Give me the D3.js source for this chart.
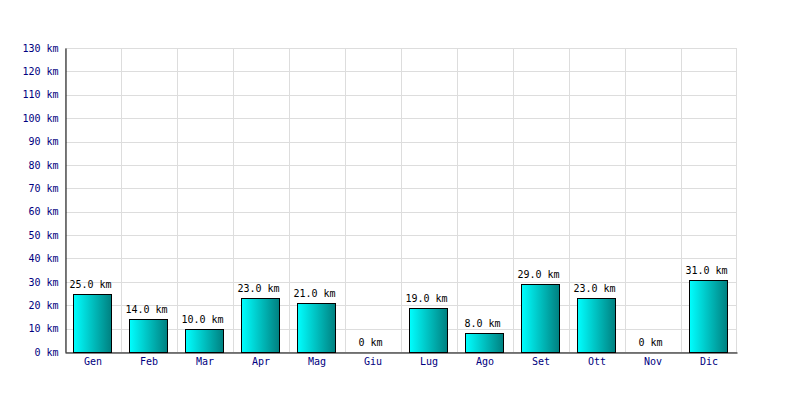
<!DOCTYPE html>
<html><head><meta charset="utf-8">
<script src="https://cdn.jsdelivr.net/npm/d3@7"></script>
<style>body{margin:0;background:#fff}svg{display:block}text{font-family:"DejaVu Sans Mono",monospace;font-size:10px}</style>
</head><body><svg id="c" width="800" height="400"></svg>
<script>
const months = ["Gen","Feb","Mar","Apr","Mag","Giu","Lug","Ago","Set","Ott","Nov","Dic"];
const km = [25,14,10,23,21,0,19,8,29,23,0,31];
const yTicks = [0,10,20,30,40,50,60,70,80,90,100,110,120,130];

const svg = d3.select("#c");
const L=65,R=737,T=48,B=352;
const xg = d3.scaleBand().domain(months).range([L,R]);
const BW = 38, OFF = 8;
const y = d3.scaleLinear().domain([0,130]).range([B,T]);

const defs = svg.append("defs");
const g = defs.append("linearGradient").attr("id","gr").attr("x1","0").attr("x2","1").attr("y1","0").attr("y2","0");
g.append("stop").attr("offset","0").attr("stop-color","#00ffff");
g.append("stop").attr("offset","1").attr("stop-color","#008080");

// grid
svg.append("g").selectAll("line").data(yTicks).join("line")
  .attr("x1",L).attr("x2",R).attr("y1",d=>Math.round(y(d))+0.5).attr("y2",d=>Math.round(y(d))+0.5)
  .attr("stroke","#dddddd");
svg.append("g").selectAll("line").data(months.concat(["__end"])).join("line")
  .attr("x1",d=>d==="__end"?R-0.5:Math.round(xg(d))+0.5).attr("x2",d=>d==="__end"?R-0.5:Math.round(xg(d))+0.5)
  .attr("y1",T).attr("y2",B).attr("stroke","#dddddd");

const data = months.map((m,i)=>({m,v:km[i]}));
// bars
svg.append("g").selectAll("rect").data(data.filter(d=>d.v>0)).join("rect")
  .attr("x",d=>Math.round(xg(d.m))+OFF+0.5).attr("width",BW)
  .attr("y",d=>Math.round(y(d.v))+0.5).attr("height",d=>B-Math.round(y(d.v)))
  .attr("fill","url(#gr)").attr("stroke","#000").attr("stroke-width",1);

// value labels
svg.append("g").selectAll("text").data(data).join("text")
  .attr("x",d=>Math.round(xg(d.m))+OFF+BW/2-1.5).attr("y",d=>Math.round(y(d.v))-6)
  .attr("text-anchor","middle").attr("fill","#000")
  .text(d=>d.v===0?"0 km":d.v.toFixed(1)+" km");

// axes
const ya = d3.axisLeft(y).tickValues(yTicks).tickSize(0).tickPadding(7).tickFormat(d=>d+" km");
svg.append("g").attr("transform",`translate(${L+0.5},0)`).call(ya)
  .call(a=>{a.select(".domain").attr("stroke","#000");a.selectAll("text").attr("fill","#000080").style("font-size","10px").style("font-family","DejaVu Sans Mono");});
const xa = d3.axisBottom(xg).tickSize(0).tickPadding(5);
svg.append("g").attr("transform",`translate(0,${B+0.5})`).call(xa)
  .call(a=>{a.select(".domain").attr("stroke","#000");a.selectAll("text").attr("fill","#000080").style("font-size","10px").style("font-family","DejaVu Sans Mono");});
</script></body></html>
